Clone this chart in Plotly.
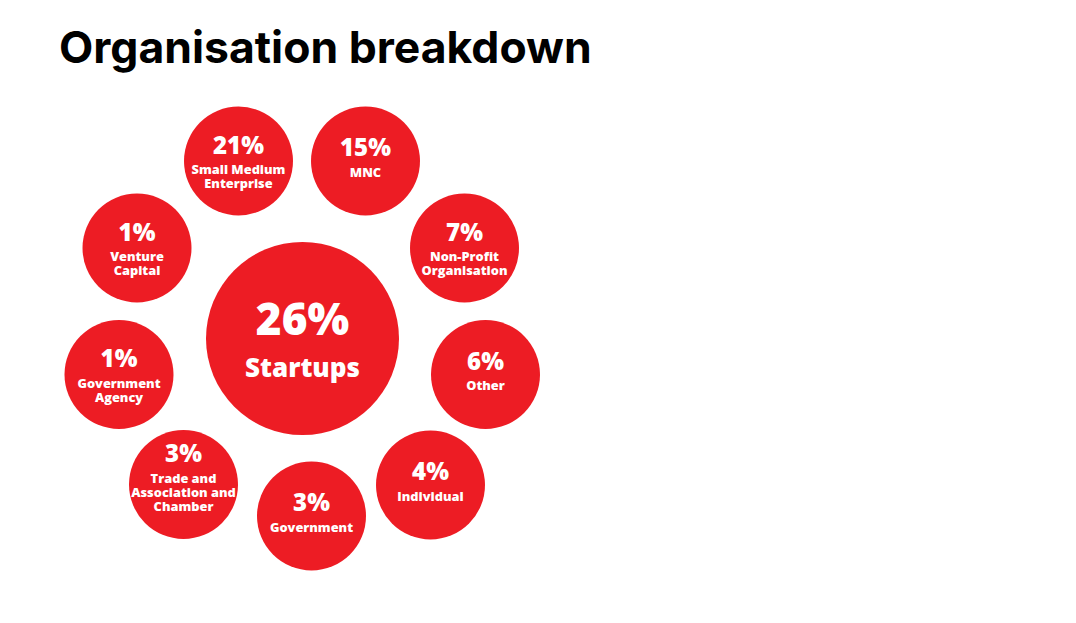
import plotly.graph_objects as go

# ---- data ----
categories = ["Startups", "Small Medium<br>Enterprise", "MNC", "Non-Profit<br>Organisation",
              "Other", "Individual", "Government", "Trade and<br>Association and<br>Chamber",
              "Government<br>Agency", "Venture<br>Capital"]
percentages = [26, 21, 15, 7, 6, 4, 3, 3, 1, 1]
title_text = "Organisation breakdown"

# ---- layout (pixel space of the 1076x623 canvas) ----
pos_x = [302.5, 238.5, 365.5, 464.5, 485.5, 430.5, 311.5, 183.5, 119, 137]
pos_y = [338.5, 161, 161, 248, 374.5, 485, 516, 484.5, 374.5, 248]
diameters = [193] + [109] * 9

RED = "#ED1C24"
FONT = "Open Sans"
W, H = 1076, 623
PAD = 8  # default page body margin

first_line_off = {1: 12.5, 2: 10.0, 3: -5.0}
LINE_STEP = 14.3
PCT_GAP = 23.5

pct_x, pct_y, pct_t, pct_s = [], [], [], []
lab_x, lab_y, lab_t, lab_s = [], [], [], []
for i, (cat, p) in enumerate(zip(categories, percentages)):
    lines = cat.split("<br>")
    cx, cy = pos_x[i], pos_y[i]
    if i == 0:
        pct_x.append(cx); pct_y.append(cy - 15); pct_t.append(f"{p}%"); pct_s.append(44)
        lab_x.append(cx); lab_y.append(cy + 31.5); lab_t.append(lines[0]); lab_s.append(26)
        continue
    n = len(lines)
    f0 = first_line_off[n]
    pct_x.append(cx); pct_y.append(cy + f0 - PCT_GAP); pct_t.append(f"{p}%"); pct_s.append(24)
    for k, ln in enumerate(lines):
        lab_x.append(cx); lab_y.append(cy + f0 + k * LINE_STEP); lab_t.append(ln); lab_s.append(12.8)

fig = go.Figure()
fig.add_trace(go.Scatter(
    x=pos_x, y=pos_y, mode="markers",
    marker=dict(size=diameters, color=RED, line=dict(width=0), opacity=1),
    hoverinfo="skip", showlegend=False))
fig.add_trace(go.Scatter(
    x=pct_x, y=pct_y, mode="text", text=pct_t, textposition="middle center",
    textfont=dict(family=FONT, size=pct_s, color="white", weight=800),
    hoverinfo="skip", showlegend=False))
fig.add_trace(go.Scatter(
    x=lab_x, y=lab_y, mode="text", text=lab_t, textposition="middle center",
    textfont=dict(family=FONT, size=lab_s, color="white", weight=800),
    hoverinfo="skip", showlegend=False))

fig.add_annotation(x=57, y=47, xref="x", yref="y", text=title_text, showarrow=False,
                   xanchor="left", yanchor="middle",
                   font=dict(family="Inter", size=44.5, color="black", weight="bold"))

fig.update_layout(
    width=W - 2 * PAD, height=H - 2 * PAD, margin=dict(l=0, r=0, t=0, b=0),
    paper_bgcolor="white", plot_bgcolor="white",
    xaxis=dict(range=[PAD, W - PAD], visible=False, fixedrange=True),
    yaxis=dict(range=[H - PAD, PAD], visible=False, fixedrange=True),
)
fig.write_html("out.html", config={"displayModeBar": False})
